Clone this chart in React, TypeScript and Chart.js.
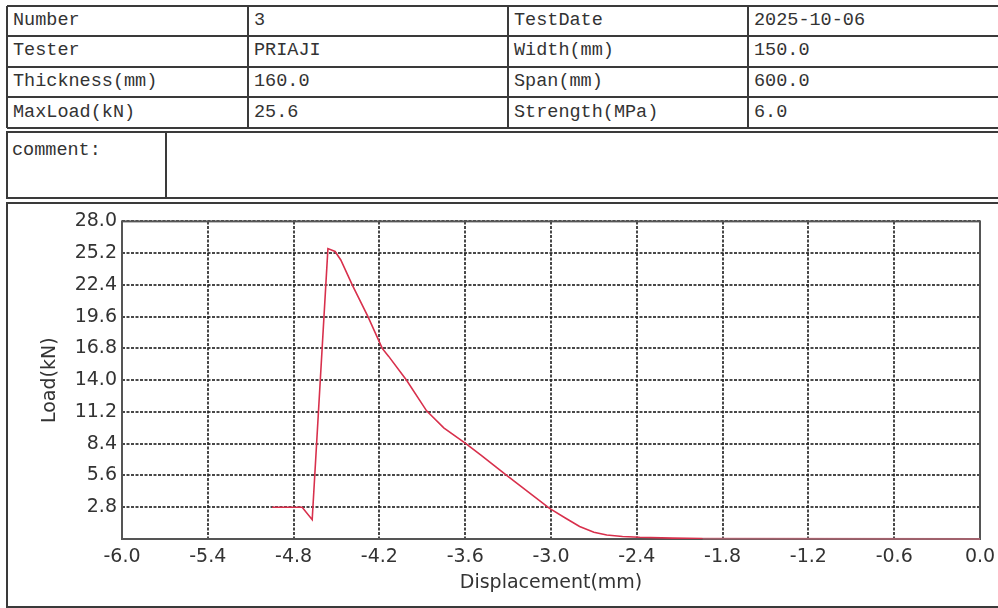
import React, { useEffect, useRef } from "react";
import { Chart, registerables } from "chart.js";

Chart.register(...registerables);

// ---- data ----
const dispX = [-4.95, -4.74, -4.67, -4.56, -4.51, -4.47, -4.39, -4.28, -4.18, -4.135, -4.01, -3.87, -3.75, -3.6, -3.49, -3.31, -3.01, -2.9, -2.8, -2.7, -2.61, -2.5, -2.38, -2.15, -1.94];
const loadY = [2.8, 2.8, 1.7, 25.6, 25.35, 24.6, 22.4, 19.6, 16.8, 16.1, 14.0, 11.3, 9.8, 8.45, 7.4, 5.6, 2.7, 1.85, 1.1, 0.6, 0.35, 0.22, 0.15, 0.08, 0.05];
const tailX = [-1.94, 0.0];
const tailY = [0.05, 0.0];

const xMin = -6.0;
const xMax = 0.0;
const xStep = 0.6;
const yMin = 0;
const yMax = 28.0;
const yStep = 2.8;

const infoRows = [
  ["Number", "3", "TestDate", "2025-10-06"],
  ["Tester", "PRIAJI", "Width(mm)", "150.0"],
  ["Thickness(mm)", "160.0", "Span(mm)", "600.0"],
  ["MaxLoad(kN)", "25.6", "Strength(MPa)", "6.0"],
];
const commentLabel = "comment:";
const xTitle = "Displacement(mm)";
const yTitle = "Load(kN)";

const rowEdges = [6, 36, 66.5, 97, 128];
const colEdges = [7, 248, 508, 748, 1002];

const frameColor = "#3a3a3a";
const textFont = "'Liberation Mono', 'DejaVu Sans Mono', monospace";

const boxPlugin = {
  id: "plotBox",
  beforeDatasetsDraw(chart: any) {
    const { ctx, chartArea } = chart;
    ctx.save();
    ctx.strokeStyle = "#555";
    ctx.lineWidth = 2;
    ctx.setLineDash([]);
    ctx.strokeRect(chartArea.left, chartArea.top, chartArea.right - chartArea.left, chartArea.bottom - chartArea.top);
    ctx.restore();
  },
};

function LoadChart() {
  const ref = useRef<HTMLCanvasElement | null>(null);
  useEffect(() => {
    if (!ref.current) return;
    const main = dispX.map((x, i) => ({ x, y: loadY[i] }));
    const tail = tailX.map((x, i) => ({ x, y: tailY[i] }));
    const axisFont = { family: "'DejaVu Sans', Verdana, sans-serif", size: 19 };
    const gridStyle = { color: "rgba(40,40,40,0.85)", lineWidth: 2, drawTicks: false };
    const chart = new Chart(ref.current, {
      type: "line",
      data: {
        datasets: [
          {
            data: tail,
            borderColor: "rgba(226,110,130,0.55)",
            borderWidth: 2,
            pointRadius: 0,
            tension: 0,
            clip: 6 as any,
          },
          {
            data: main,
            borderColor: "#d8304c",
            borderWidth: 1.6,
            pointRadius: 0,
            tension: 0,
          },
        ],
      },
      options: {
        animation: false,
        responsive: false,
        maintainAspectRatio: false,
        layout: { padding: { top: 3, right: 29, left: 0, bottom: 0 } },
        plugins: { legend: { display: false }, tooltip: { enabled: false } },
        scales: {
          x: {
            type: "linear",
            min: xMin,
            max: xMax,
            ticks: {
              stepSize: xStep,
              padding: 7,
              color: "#333",
              font: axisFont,
              maxRotation: 0,
              callback: (v: any) => Number(v).toFixed(1),
            },
            grid: gridStyle,
            border: { display: false, dash: [3, 1.5] },
            title: { display: true, text: xTitle, color: "#333", font: axisFont, padding: { top: 0, bottom: 10.6 } },
            afterFit: (s: any) => {
              s.height = 66;
            },
          },
          y: {
            type: "linear",
            min: yMin,
            max: yMax,
            ticks: {
              stepSize: yStep,
              padding: 5,
              color: "#333",
              font: axisFont,
              callback: (v: any) => (Number(v) === 0 ? "" : Number(v).toFixed(1)),
            },
            grid: gridStyle,
            border: { display: false, dash: [3, 1.5] },
            title: { display: true, text: yTitle, color: "#333", font: axisFont, padding: { top: 30, bottom: 0 } },
            afterFit: (s: any) => {
              s.width = 113;
            },
          },
        },
      },
      plugins: [boxPlugin],
    });
    return () => chart.destroy();
  }, []);
  return (
    <canvas
      ref={ref}
      width={1000}
      height={400}
      style={{ position: "absolute", left: 9, top: 205, width: 1000, height: 400 }}
    />
  );
}

export default function App() {
  const cells: React.ReactNode[] = [];
  infoRows.forEach((row, r) => {
    row.forEach((txt, c) => {
      cells.push(
        <div
          key={`${r}-${c}`}
          style={{
            position: "absolute",
            left: colEdges[c] + 6,
            top: rowEdges[r],
            height: rowEdges[r + 1] - rowEdges[r],
            lineHeight: `${rowEdges[r + 1] - rowEdges[r]}px`,
            fontFamily: textFont,
            fontSize: 18.5,
            color: "#333",
            whiteSpace: "nowrap",
          }}
        >
          {txt}
        </div>
      );
    });
  });
  const hLines = rowEdges.map((y, i) => (
    <div key={`h${i}`} style={{ position: "absolute", left: colEdges[0], top: y - 1, width: colEdges[4] - colEdges[0], height: 2, background: frameColor }} />
  ));
  const vLines = colEdges.map((x, i) => (
    <div key={`v${i}`} style={{ position: "absolute", left: x - 1, top: rowEdges[0], width: 2, height: rowEdges[4] - rowEdges[0], background: frameColor }} />
  ));
  return (
    <div style={{ position: "absolute", left: 0, top: 0, width: 998, height: 608, overflow: "hidden", background: "#fff" }}>
      {hLines}
      {vLines}
      {cells}
      {/* comment box */}
      <div style={{ position: "absolute", left: 6, top: 131, width: 1000, height: 68, border: `2px solid ${frameColor}`, boxSizing: "border-box" }} />
      <div style={{ position: "absolute", left: 165, top: 131, width: 2, height: 68, background: frameColor }} />
      <div style={{ position: "absolute", left: 12, top: 140, fontFamily: textFont, fontSize: 18.5, color: "#333", lineHeight: "22px" }}>{commentLabel}</div>
      {/* chart box */}
      <div style={{ position: "absolute", left: 6, top: 202, width: 1000, height: 406, border: `2px solid ${frameColor}`, boxSizing: "border-box" }} />
      <LoadChart />
    </div>
  );
}
